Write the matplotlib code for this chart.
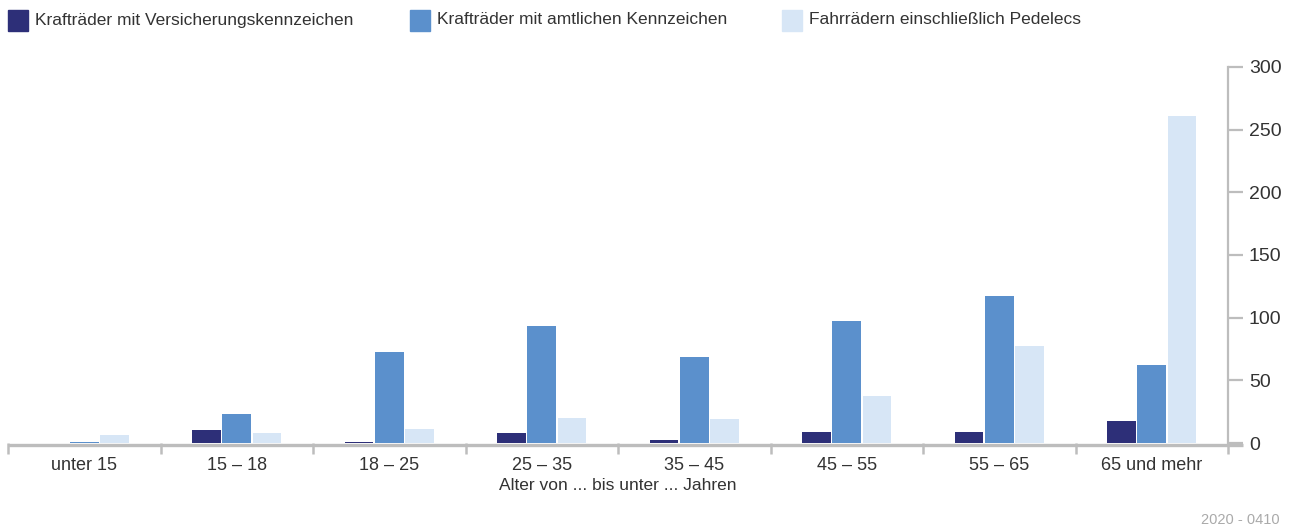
import matplotlib.pyplot as plt
import numpy as np

# Daten (Verunglückte je Altersgruppe)
kategorien = ["unter 15", "15 – 18", "18 – 25", "25 – 35", "35 – 45", "45 – 55", "55 – 65", "65 und mehr"]
versicherung = [0, 10, 1, 8, 2, 9, 9, 17.5]
amtlich = [1, 23, 73, 93, 69, 97, 117, 62]
fahrrad = [6, 8, 11, 20, 19, 37.5, 77, 261]

serien = ["Krafträder mit Versicherungskennzeichen", "Krafträder mit amtlichen Kennzeichen",
          "Fahrrädern einschließlich Pedelecs"]
farben = ["#2d2f78", "#5b90cc", "#d7e6f6"]
grau = "#bdbdbd"
text_farbe = "#333333"
schrift = ["Liberation Sans", "DejaVu Sans"]
plt.rcParams["font.family"] = schrift

fig = plt.figure(figsize=(12.94, 5.27), dpi=100)
ax = fig.add_axes([8 / 1294, 1 - 443 / 527, 1220 / 1294, 376 / 527])

x = np.arange(len(kategorien))
breite = 0.187
abstand = 0.197
for i, (werte, farbe) in enumerate(zip([versicherung, amtlich, fahrrad], farben)):
    ax.bar(x + (i - 1) * abstand, werte, width=breite, color=farbe, zorder=4)

ax.set_xlim(-0.5, len(kategorien) - 0.5)
ax.set_ylim(0, 300)

for s in ["top", "left"]:
    ax.spines[s].set_visible(False)
ax.spines["bottom"].set_visible(False)
# Grundlinie etwas unterhalb der Balken, rechts über die Achse hinaus
ax.plot([0, 1.012], [-0.004, -0.004], transform=ax.transAxes, color=grau, lw=2.4,
        clip_on=False, zorder=3, solid_capstyle="butt")
ax.spines["right"].set_color(grau)
ax.spines["right"].set_linewidth(1.6)

ax.yaxis.tick_right()
ax.set_yticks([0, 50, 100, 150, 200, 250, 300])
ax.tick_params(axis="y", direction="out", length=11, width=1.6, color=grau,
               labelsize=14, labelcolor=text_farbe, pad=4)

ax.set_xticks(x)
ax.set_xticklabels(kategorien, fontsize=13, color=text_farbe)
ax.tick_params(axis="x", which="major", length=0, pad=10)
ax.set_xticks(np.arange(-0.5, len(kategorien)), minor=True)
ax.tick_params(axis="x", which="minor", direction="out", length=8, width=1.8, color=grau)

ax.set_xlabel("Alter von ... bis unter ... Jahren", fontsize=12.5,
              color=text_farbe, labelpad=3)

# Legende oben
leg_x = [8, 410, 782]
for lx, farbe, name in zip(leg_x, farben, serien):
    fig.patches.append(plt.Rectangle((lx / 1294, 1 - 31 / 527), 20 / 1294, 21 / 527,
                                     transform=fig.transFigure, color=farbe))
    fig.text((lx + 27) / 1294, 1 - 20 / 527, name, fontsize=12.5,
             color=text_farbe, va="center")

fig.text(1280 / 1294, 1 - 520 / 527, "2020 - 0410", fontsize=10.5,
         color="#aaaaaa", ha="right", va="center")

fig.savefig("out.png", dpi=100)
